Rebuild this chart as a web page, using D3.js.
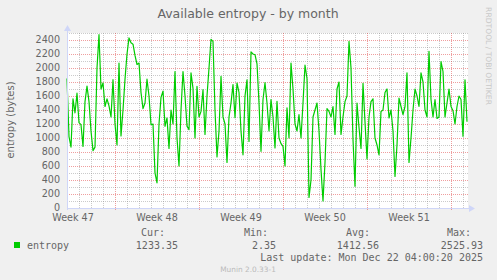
<!DOCTYPE html>
<html>
<head>
<meta charset="utf-8">
<script src="https://cdn.jsdelivr.net/npm/d3@7"></script>
<style>
  html, body { margin: 0; padding: 0; background: #F0F0F0; }
  svg { display: block; }
</style>
</head>
<body>
<script>
// ---- data ----
const title = "Available entropy - by month";
const yLabel = "entropy (bytes)";
const seriesName = "entropy";
const startTime = new Date(2025, 10, 20, 0, 0);   // first sample
const endTime = new Date(2025, 11, 23, 10, 0);    // right edge of graph
const stepHours = 4;
const yTicks = [0, 200, 400, 600, 800, 1000, 1200, 1400, 1600, 1800, 2000, 2200, 2400];
const yMax = 2500;
const values = [
  1850, 1020, 870, 1560, 1360, 1640, 1220, 1190, 880, 1520, 1740, 1520, 1100, 820, 870, 2000, 2476, 1700, 1786, 1450,
  1560, 1460, 1300, 1833, 1200, 900, 2070, 1030, 1400, 1840, 2200, 2430, 2360, 2340,
  2180, 2050, 2071, 1650, 1420, 1500, 1840, 1600, 1190, 1200, 500, 360, 1200, 1580, 1670, 1167, 1286, 850, 1400, 1200,
  1950, 1000, 600, 1400, 1950, 1600, 1170, 1119, 1930, 1710, 1000, 1738, 1300, 1380,
  1690, 1050, 1600, 2000, 2410, 2380, 1400, 730, 1100, 1880, 1300, 1200, 650, 1300, 1500, 1762, 1290, 1786, 1650, 1100,
  760, 1600, 1830, 950, 2230, 2200, 2190, 2060, 1500, 810, 1550, 1790, 1500, 1100,
  1548, 1300, 857, 1524, 1000, 920, 880, 600, 1430, 1000, 2070, 1700, 1200, 1100, 1333, 1000, 1500, 2040, 1850, 150,
  400, 1300, 1400, 1500, 1100, 550, 100, 650, 1420, 1380, 1300, 1450, 1050, 1700,
  1800, 1050, 1300, 1520, 1600, 2380, 2000, 980, 310, 1500, 1150, 850, 1780, 1230, 700, 1300, 1520, 1560, 1000, 900,
  760, 1380, 1400, 1650, 1700, 1286, 1400, 1100, 450, 900, 1571, 1450, 1333, 1450,
  1930, 650, 1000, 1400, 1700, 1600, 1450, 1930, 1800, 1400, 1300, 2238, 1550, 1300, 1550, 1280, 1300, 2090, 1950, 1300,
  1500, 1700, 1450, 1390, 1200, 1450, 1600, 1550, 1024, 1830, 1233
];
const legendHeaders = ["Cur:", "Min:", "Avg:", "Max:"];
const legendValues = ["1233.35", "2.35", "1412.56", "2525.93"];
const lastUpdate = "Last update: Mon Dec 22 04:00:20 2025";
const footer = "Munin 2.0.33-1";
const sideText = "RRDTOOL / TOBI OETIKER";

// ---- layout ----
const W = 497, H = 280;
const plot = { left: 67, right: 468, top: 33, bottom: 208 };
const fontSans = "'DejaVu Sans', sans-serif";
const fontMono = "'DejaVu Sans Mono', monospace";
const fontColor = "#666666";
const axisColor = "#CFD6F8";

const svg = d3.select("body").append("svg").attr("width", W).attr("height", H);
svg.append("rect").attr("width", W).attr("height", H).attr("fill", "#F0F0F0");

const x = d3.scaleTime().domain([startTime, endTime]).range([plot.left, plot.right]);
const y = d3.scaleLinear().domain([0, yMax]).range([plot.bottom, plot.top]);

svg.append("rect")
  .attr("x", plot.left).attr("y", plot.top)
  .attr("width", plot.right - plot.left).attr("height", plot.bottom - plot.top)
  .attr("fill", "#FFFFFF");

const crisp = v => Math.round(v) + 0.5;
const g = svg.append("g");

// horizontal grid: minor every 100, major (ticks) every 200
const minorY = d3.range(100, yMax + 1, 100).filter(v => v % 200 !== 0);
g.selectAll(".hmin").data(minorY).join("line")
  .attr("x1", plot.left).attr("x2", plot.right)
  .attr("y1", d => crisp(y(d))).attr("y2", d => crisp(y(d)))
  .attr("stroke", "rgba(140,140,140,0.45)").attr("stroke-dasharray", "1,1");

// vertical minor grid: days
const days = d3.timeDay.range(d3.timeDay.ceil(startTime), endTime).filter(d => d.getDay() !== 1);
g.selectAll(".vmin").data(days).join("line")
  .attr("x1", d => crisp(x(d))).attr("x2", d => crisp(x(d)))
  .attr("y1", plot.top).attr("y2", plot.bottom)
  .attr("stroke", "rgba(140,140,140,0.45)").attr("stroke-dasharray", "1,1");

// major grid
g.selectAll(".hmaj").data(yTicks.filter(v => v > 0)).join("line")
  .attr("x1", plot.left).attr("x2", plot.right)
  .attr("y1", d => crisp(y(d))).attr("y2", d => crisp(y(d)))
  .attr("stroke", "rgba(220,40,40,0.45)").attr("stroke-dasharray", "1,1");
const weeks = d3.timeMonday.range(d3.timeDay.ceil(startTime), endTime);
g.selectAll(".vmaj").data(weeks).join("line")
  .attr("x1", d => crisp(x(d))).attr("x2", d => crisp(x(d)))
  .attr("y1", plot.top).attr("y2", plot.bottom + 3)
  .attr("stroke", "rgba(220,40,40,0.45)").attr("stroke-dasharray", "1,1");

// y tick labels
svg.selectAll(".ylab").data(yTicks).join("text")
  .attr("x", 60).attr("y", d => y(d) + 3.3)
  .attr("text-anchor", "end")
  .attr("font-family", fontSans).attr("font-size", "9.6px").attr("fill", fontColor)
  .text(d => d);

// x labels centered mid-week
const weekLabelTimes = d3.timeMonday.range(d3.timeMonday.floor(startTime), endTime)
  .map(d => d3.timeHour.offset(d, 84))
  .filter(d => x(d) > plot.left - 10 && x(d) < plot.right - 20);
const fmtWeek = d3.timeFormat("%V");
svg.selectAll(".xlab").data(weekLabelTimes).join("text")
  .attr("x", d => x(d)).attr("y", 221)
  .attr("text-anchor", "middle")
  .attr("font-family", fontSans).attr("font-size", "9.6px").attr("fill", fontColor)
  .text(d => "Week " + (+fmtWeek(d)));

// data line
const times = values.map((v, i) => d3.timeHour.offset(startTime, i * stepHours));
const line = d3.line().x((d, i) => x(times[i])).y(d => y(d));
svg.append("path").datum(values)
  .attr("d", line)
  .attr("fill", "none").attr("stroke", "#00CC00").attr("stroke-width", 1.2)
  .attr("stroke-linejoin", "round");

// axes
svg.append("line").attr("x1", plot.left).attr("x2", plot.right + 2)
  .attr("y1", crisp(plot.bottom)).attr("y2", crisp(plot.bottom))
  .attr("stroke", axisColor);
svg.append("line").attr("x1", crisp(plot.left)).attr("x2", crisp(plot.left))
  .attr("y1", plot.bottom + 2).attr("y2", plot.top - 3)
  .attr("stroke", axisColor);
svg.append("path")
  .attr("d", `M${plot.right + 1},${plot.bottom - 3} L${plot.right + 7},${plot.bottom + 0.5} L${plot.right + 1},${plot.bottom + 4} Z`)
  .attr("fill", axisColor);
svg.append("path")
  .attr("d", `M${plot.left - 3},${plot.top - 2} L${plot.left + 0.5},${plot.top - 8} L${plot.left + 4},${plot.top - 2} Z`)
  .attr("fill", axisColor);

// title
svg.append("text").attr("x", 248).attr("y", 18)
  .attr("text-anchor", "middle")
  .attr("font-family", fontSans).attr("font-size", "12.5px").attr("fill", fontColor)
  .text(title);

// y label
svg.append("text")
  .attr("transform", "translate(14,120) rotate(-90)")
  .attr("text-anchor", "middle")
  .attr("font-family", fontSans).attr("font-size", "10px").attr("fill", fontColor)
  .text(yLabel);

// side text
svg.append("text")
  .attr("transform", "translate(486,56) rotate(90)")
  .attr("text-anchor", "middle")
  .attr("font-family", fontSans).attr("font-size", "7.6px").attr("fill", "#C8C8C8")
  .text(sideText);

// legend
const headerX = [141, 244, 346, 447];
const valueEndX = [178, 276, 379, 483];
svg.selectAll(".lh").data(legendHeaders).join("text")
  .attr("x", (d, i) => headerX[i]).attr("y", 236)
  .attr("font-family", fontMono).attr("font-size", "10px").attr("fill", fontColor)
  .text(d => d);
svg.append("rect").attr("x", 14).attr("y", 242).attr("width", 6).attr("height", 6).attr("fill", "#00CC00");
svg.append("text").attr("x", 27).attr("y", 249)
  .attr("font-family", fontMono).attr("font-size", "10px").attr("fill", fontColor)
  .text(seriesName);
svg.selectAll(".lv").data(legendValues).join("text")
  .attr("x", (d, i) => valueEndX[i]).attr("y", 249)
  .attr("text-anchor", "end")
  .attr("font-family", fontMono).attr("font-size", "10px").attr("fill", fontColor)
  .text(d => d);
svg.append("text").attr("x", 483).attr("y", 261)
  .attr("text-anchor", "end")
  .attr("font-family", fontMono).attr("font-size", "10px").attr("fill", fontColor)
  .text(lastUpdate);
svg.append("text").attr("x", 248).attr("y", 272)
  .attr("text-anchor", "middle")
  .attr("font-family", fontSans).attr("font-size", "7.4px").attr("fill", "#BBBBBB")
  .text(footer);
</script>
</body>
</html>
